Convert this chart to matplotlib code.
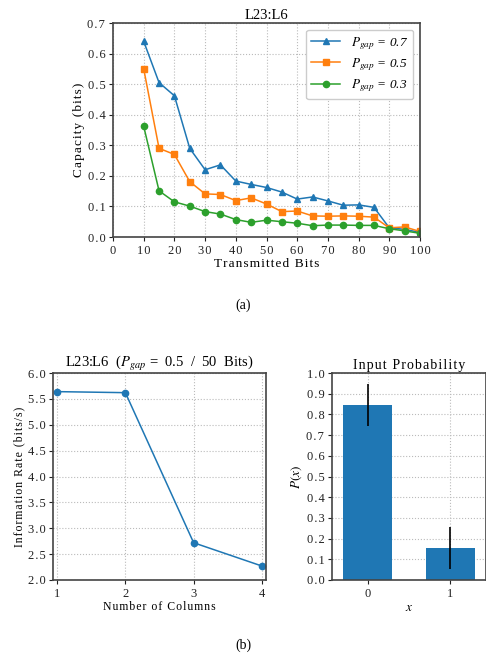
import matplotlib
matplotlib.use("Agg")
import matplotlib.pyplot as plt
from matplotlib.ticker import FuncFormatter

plt.rcParams['font.family'] = ['Liberation Serif', 'DejaVu Serif']
plt.rcParams['mathtext.fontset'] = 'stix'
plt.rcParams['font.size'] = 9

bits = [10, 15, 20, 25, 30, 35, 40, 45, 50, 55, 60, 65, 70, 75, 80, 85, 90, 95, 100]
cap_07 = [0.64, 0.505, 0.462, 0.29, 0.22, 0.236, 0.183, 0.172, 0.162, 0.147, 0.124, 0.131,
          0.118, 0.104, 0.105, 0.097, 0.030, 0.025, 0.015]
cap_05 = [0.55, 0.29, 0.27, 0.181, 0.141, 0.139, 0.119, 0.128, 0.108, 0.083, 0.085, 0.069,
          0.068, 0.069, 0.068, 0.065, 0.030, 0.033, 0.018]
cap_03 = [0.362, 0.151, 0.115, 0.101, 0.083, 0.075, 0.057, 0.048, 0.055, 0.050, 0.045, 0.037,
          0.039, 0.039, 0.038, 0.038, 0.027, 0.020, 0.012]

columns = [1, 2, 3, 4]
info_rate = [5.64, 5.62, 2.72, 2.27]

x_vals = [0, 1]
probs = [0.845, 0.155]
prob_err = [0.10, 0.10]

blue, orange, green = '#1f77b4', '#ff7f0e', '#2ca02c'
spine_col = '#444444'
HS = '\u200a'


def sp(s):
    return HS.join(s)


def fmt(decimals):
    return FuncFormatter(lambda v, p: sp(f'{v:.{decimals}f}'))


fig = plt.figure(figsize=(4.86, 6.58), dpi=100)


def style(ax):
    ax.grid(True, linestyle=':', color='#bbbbbb', linewidth=0.8)
    ax.set_axisbelow(True)
    for s in ax.spines.values():
        s.set_color(spine_col)
        s.set_linewidth(1.2)
    ax.tick_params(direction='out', length=3, width=0.8, colors='#222222', labelsize=9, pad=2.5)

# (a)
ax1 = fig.add_axes([113/486, (658-237)/658, 307/486, 214/658])
ax1.plot(bits, cap_07, '-^', color=blue, ms=5, lw=1.1, label=r'$P_{gap}$ = 0.7')
ax1.plot(bits, cap_05, '-s', color=orange, ms=5, lw=1.1, label=r'$P_{gap}$ = 0.5')
ax1.plot(bits, cap_03, '-o', color=green, ms=4.5, lw=1.1, label=r'$P_{gap}$ = 0.3')
ax1.set_xlim(0, 100)
ax1.set_ylim(0, 0.7)
ax1.set_xticks(range(0, 101, 10))
ax1.set_yticks([0.0, 0.1, 0.2, 0.3, 0.4, 0.5, 0.6, 0.7])
ax1.xaxis.set_major_formatter(fmt(0))
ax1.yaxis.set_major_formatter(fmt(1))
ax1.set_xlabel(sp('Transmitted Bits'), labelpad=1, fontsize=9.5)
ax1.set_ylabel(sp('Capacity (bits)'), labelpad=2, fontsize=9.5)
ax1.set_title('L23:L6', fontsize=10.5, pad=3)
style(ax1)
leg = ax1.legend(loc='upper right', prop={'style': 'italic', 'size': 9.5}, handlelength=2.2,
                 borderpad=0.4, labelspacing=0.35, framealpha=1, edgecolor='#cccccc')

fig.text(243/486, 1 - 305/658, '(a)', ha='center', va='center', fontsize=10)

# (b) left
ax2 = fig.add_axes([53/486, (658-580)/658, 213/486, 207/658])
ax2.plot(columns, info_rate, '-o', color=blue, ms=4.5, lw=1.1)
ax2.set_xlim(0.94, 4.06)
ax2.set_ylim(2.0, 6.0)
ax2.set_xticks(columns)
ax2.set_yticks([2.0, 2.5, 3.0, 3.5, 4.0, 4.5, 5.0, 5.5, 6.0])
ax2.yaxis.set_major_formatter(fmt(1))
ax2.set_xlabel(sp('Number of Columns'), labelpad=1, fontsize=8.5)
ax2.set_ylabel(sp('Information Rate (bits/s)'), labelpad=2, fontsize=8.5)
ax2.set_title(r'L23:L6  ($P_{gap}$ =  0.5  /  50  Bits)', fontsize=10.5, pad=3)
style(ax2)

# (b) right
ax3 = fig.add_axes([332/486, (658-580)/658, 154/486, 207/658])
ax3.bar(x_vals, probs, width=0.6, color=blue, yerr=prob_err, ecolor='black',
        error_kw={'elinewidth': 1.2})
ax3.set_xlim(-0.43, 1.43)
ax3.set_ylim(0, 1.0)
ax3.set_xticks(x_vals)
ax3.set_yticks([i / 10 for i in range(11)])
ax3.yaxis.set_major_formatter(fmt(1))
ax3.set_xlabel(r'$x$', labelpad=2, fontsize=9.5)
ax3.set_ylabel(r'$P(x)$', labelpad=2, fontsize=9.5)
ax3.set_title(sp('Input Probability'), fontsize=10, pad=3)
style(ax3)

fig.text(243/486, 1 - 645/658, '(b)', ha='center', va='center', fontsize=10)

fig.savefig('out.png', dpi=100)
